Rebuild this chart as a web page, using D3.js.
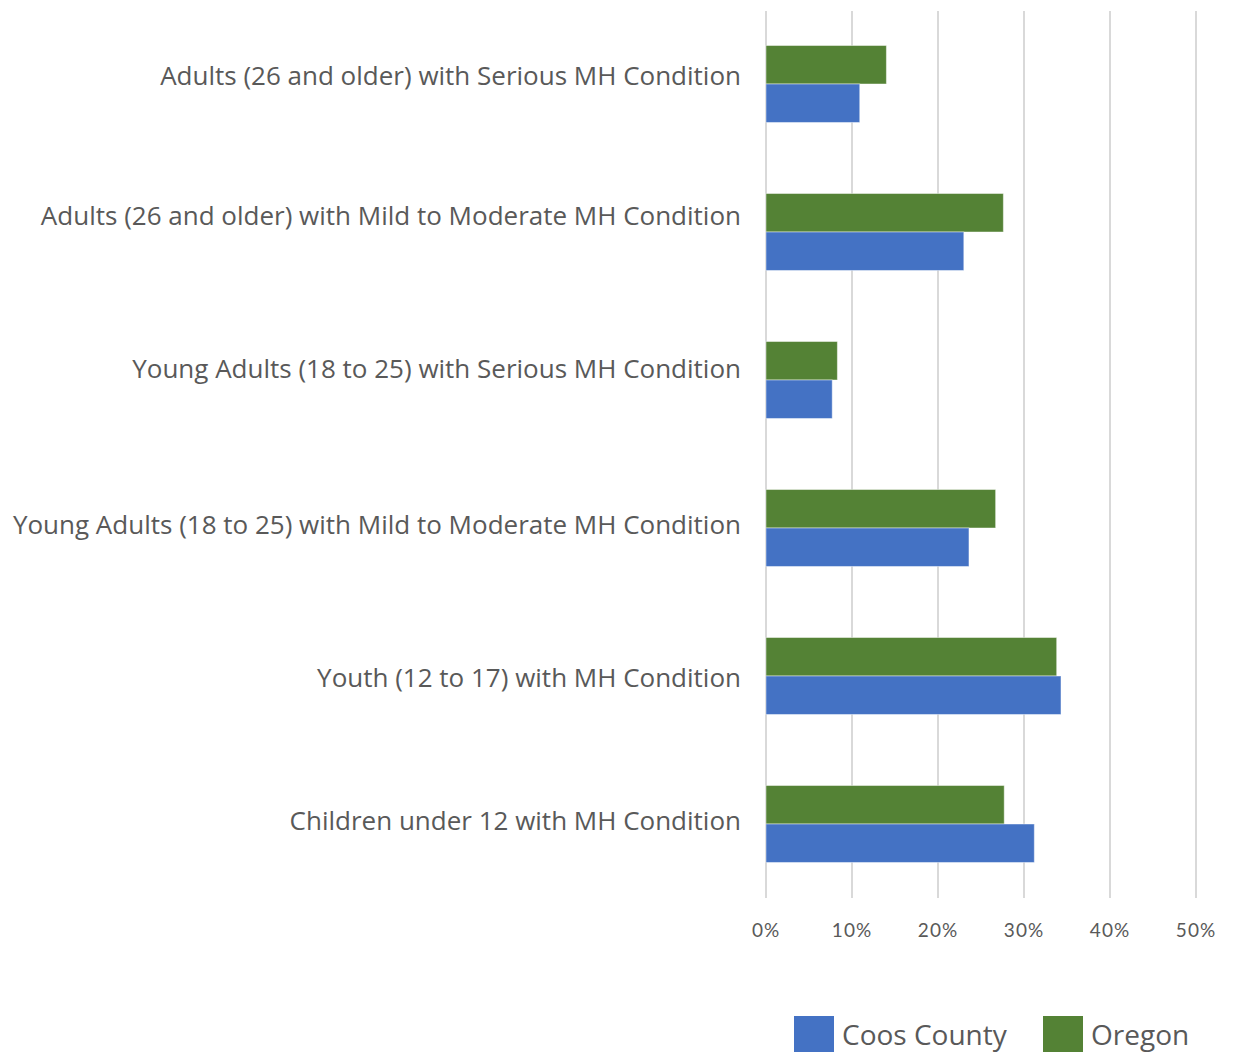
<!DOCTYPE html>
<html lang="en">
  <head>
    <meta charset="UTF-8" />
    <title>MH Conditions</title>
    <script src="https://cdn.jsdelivr.net/npm/d3@7"></script>
    <style>
      body { margin: 0; background: #fff; }
      text { font-family: "Open Sans", Lato, sans-serif; fill: #595959; }
      .grid line { stroke: #d9d9d9; stroke-width: 2px; }
      .cat-label { font-size: 26px; }
      .tick-label { font-family: Lato, sans-serif; font-size: 19px; letter-spacing: 1px; }
      .legend-label { font-size: 28px; }
      .bar { stroke: rgba(255,255,255,0.45); stroke-width: 1px; }
    </style>
  </head>
  <body>
    <script>

      // Data
      var categories = [
        "Adults (26 and older) with Serious MH Condition",
        "Adults (26 and older) with Mild to Moderate MH Condition",
        "Young Adults (18 to 25) with Serious MH Condition",
        "Young Adults (18 to 25) with Mild to Moderate MH Condition",
        "Youth (12 to 17) with MH Condition",
        "Children under 12 with MH Condition"
      ];
      var coosCounty = [0.109, 0.230, 0.077, 0.236, 0.343, 0.312];
      var oregon     = [0.140, 0.276, 0.083, 0.267, 0.338, 0.277];
      var xTicks = [0, 0.1, 0.2, 0.3, 0.4, 0.5];
      var seriesNames = ["Coos County", "Oregon"];
      var seriesColors = ["#4472c4", "#548235"];

      // the original's labels don't sit exactly on the band centres
      var labelNudge = [-8, -16, -11, -3, 2, -3];

      var w = 1236, h = 1052;
      var margin = { top: 10, right: 40, bottom: 154, left: 766 };

      var svg = d3.select("body").append("svg")
        .attr("width", w)
        .attr("height", h);

      var xScale = d3.scaleLinear()
        .domain([0, 0.5])
        .range([margin.left, 1196]);

      var yScale = d3.scaleBand()
        .domain(categories)
        .range([margin.top, 898])
        .paddingInner(0.48)
        .paddingOuter(0.24);

      // inner band for the two series (Oregon on top, Coos below)
      var sub = d3.scaleBand()
        .domain(["Oregon", "Coos County"])
        .range([0, yScale.bandwidth()]);

      // Gridlines
      svg.append("g")
        .attr("class", "grid")
        .selectAll("line")
        .data(xTicks)
        .enter()
        .append("line")
        .attr("x1", function(d) { return xScale(d); })
        .attr("x2", function(d) { return xScale(d); })
        .attr("y1", 11)
        .attr("y2", 898);

      // Bars
      var groups = svg.append("g")
        .selectAll("g")
        .data(categories)
        .enter()
        .append("g")
        .attr("transform", function(d) { return "translate(0," + yScale(d) + ")"; });

      groups.append("rect")
        .attr("class", "bar")
        .attr("x", xScale(0))
        .attr("y", sub("Oregon"))
        .attr("height", sub.bandwidth())
        .attr("width", function(d, i) { return xScale(oregon[i]) - xScale(0); })
        .attr("fill", seriesColors[1]);

      groups.append("rect")
        .attr("class", "bar")
        .attr("x", xScale(0))
        .attr("y", sub("Coos County"))
        .attr("height", sub.bandwidth())
        .attr("width", function(d, i) { return xScale(coosCounty[i]) - xScale(0); })
        .attr("fill", seriesColors[0]);

      // Category labels
      svg.append("g")
        .selectAll("text")
        .data(categories)
        .enter()
        .append("text")
        .attr("class", "cat-label")
        .attr("x", 741)
        .attr("y", function(d, i) { return yScale(d) + yScale.bandwidth() / 2 + labelNudge[i]; })
        .attr("dy", "0.35em")
        .attr("text-anchor", "end")
        .text(function(d) { return d; });

      // Tick labels
      svg.append("g")
        .selectAll("text")
        .data(xTicks)
        .enter()
        .append("text")
        .attr("class", "tick-label")
        .attr("x", function(d) { return xScale(d); })
        .attr("y", 937)
        .attr("text-anchor", "middle")
        .text(d3.format(".0%"));

      // Legend
      var legendX = [794, 1043];
      var legend = svg.append("g")
        .selectAll("g")
        .data(seriesNames)
        .enter()
        .append("g")
        .attr("transform", function(d, i) { return "translate(" + legendX[i] + ",1016)"; });

      legend.append("rect")
        .attr("width", 40)
        .attr("height", 36)
        .attr("fill", function(d, i) { return seriesColors[i]; });

      legend.append("text")
        .attr("class", "legend-label")
        .attr("x", 48)
        .attr("y", 29)
        .text(function(d) { return d; });

    </script>
  </body>
</html>
